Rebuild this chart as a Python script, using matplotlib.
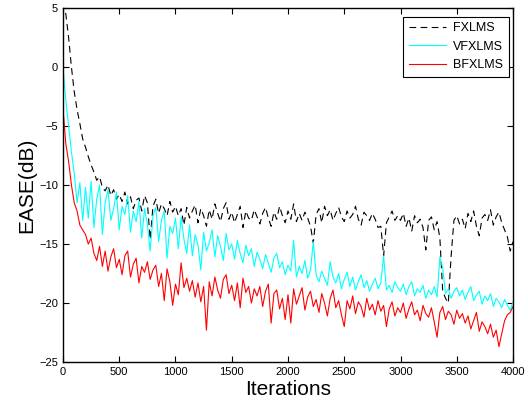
import numpy as np
import matplotlib.pyplot as plt

plt.rcParams['font.family'] = ['Liberation Sans', 'DejaVu Sans']

iters = np.arange(0, 4001, 25)

fxlms = [
    5.5, 4.5, 2.5, 0.0, -2.1, -3.6, -4.8, -6.1, -6.8, -7.6,
    -8.3, -8.9, -9.6, -9.3, -10.2, -10.5, -10.0, -10.9, -10.4, -11.2,
    -10.8, -11.4, -10.6, -11.6, -11.0, -12.0, -11.3, -11.1, -12.2, -10.9,
    -11.5, -14.6, -11.8, -11.2, -12.4, -11.6, -12.0, -12.6, -11.4, -12.3,
    -11.8, -12.6, -12.0, -13.4, -11.9, -12.8, -12.2, -11.7, -13.2, -12.0,
    -12.6, -13.5, -12.1, -12.9, -11.6, -12.4, -13.1, -12.0, -11.5, -12.9,
    -12.3, -13.2, -12.5, -11.8, -13.6, -12.2, -12.8, -13.0, -12.1, -12.7,
    -13.3, -12.4, -11.9, -12.8, -13.5, -12.3, -12.9, -11.8, -12.6, -13.2,
    -12.2, -12.9, -11.6, -13.1, -12.4, -13.0, -12.3, -12.8, -13.5, -14.9,
    -12.5, -12.0, -13.2, -11.8, -12.6, -12.1, -13.0, -12.4, -11.9, -12.7,
    -13.1, -12.2, -12.8, -12.5, -11.8, -12.9, -13.4, -12.3, -12.6, -13.0,
    -12.4, -12.9, -13.6, -13.5, -16.0, -13.2, -12.7, -12.2, -13.0, -12.6,
    -13.0, -12.4, -13.5, -12.8, -13.9, -12.6, -13.2, -12.9, -13.6, -15.5,
    -13.0, -12.7, -13.8, -13.1, -14.5, -19.0, -19.6, -20.0, -16.0, -13.0,
    -12.6, -13.3, -12.9, -13.7, -12.4, -13.1, -12.2, -13.5, -14.3, -12.8,
    -12.5, -13.0, -12.1, -13.4, -12.7, -12.3, -13.2, -13.8, -14.4, -15.6,
    -14.8,
]

vfxlms = [
    0.0, -2.8, -5.0, -7.2, -9.0, -11.5, -9.8, -13.0, -10.2, -12.8,
    -9.7, -13.6, -11.2, -10.0, -14.2, -11.5, -10.4, -13.0, -12.0, -10.6,
    -13.8, -11.8, -12.5, -10.9, -14.0, -12.2, -13.1, -11.4, -14.5, -12.0,
    -13.3, -15.6, -12.6, -11.9, -14.8, -13.0, -12.2, -16.2, -13.5, -14.1,
    -12.8, -15.4, -12.7, -14.6, -15.8, -13.4, -16.0, -14.2, -15.1, -17.2,
    -14.0, -15.6, -14.9, -13.8, -16.1, -14.3, -15.2, -16.4, -14.1, -15.5,
    -15.0, -16.3, -14.7, -15.8, -16.6, -15.1, -16.0, -15.4, -16.9, -15.7,
    -16.3, -17.1, -15.9, -16.6, -17.4, -16.2, -15.8, -17.0, -16.5, -17.6,
    -16.8, -17.3, -14.7, -17.8, -16.9, -17.5, -16.4, -17.9, -17.2, -14.8,
    -17.6, -18.2, -17.3, -17.9, -18.5, -16.5, -17.8, -18.3, -17.5, -18.8,
    -18.0, -17.4, -18.6, -17.8, -18.9, -18.2, -17.6, -18.7, -18.1, -19.0,
    -18.4, -17.9, -18.8, -18.3, -16.0, -18.9, -18.5, -19.1, -18.2, -18.7,
    -19.0, -18.4, -19.3, -18.6, -18.2, -19.4, -18.8, -19.1, -18.5, -19.6,
    -18.9, -19.3, -18.6, -19.5, -16.1, -17.0, -19.2, -18.8, -19.6, -19.0,
    -18.7, -19.4, -18.9, -19.7, -19.1, -18.6, -19.8, -19.3, -19.0, -20.1,
    -19.4, -19.8, -19.2, -20.3, -19.6, -19.9, -20.4, -19.7, -20.2, -20.6,
    -19.9,
]

bfxlms = [
    -3.5, -6.5, -8.0, -10.0, -11.5, -12.2, -13.4, -13.8, -14.2, -15.0,
    -14.5, -15.8, -16.4, -15.2, -16.9, -15.6, -17.3, -16.1, -15.4, -17.0,
    -16.3, -17.6, -16.0, -15.6, -17.8, -16.7, -16.2, -18.3, -16.9, -17.4,
    -16.5, -18.0, -17.2, -16.8, -18.6, -17.5, -19.8, -17.1, -18.2, -20.2,
    -18.4, -19.3, -16.6, -18.7, -17.9, -19.0, -18.1, -19.5, -18.3, -19.9,
    -18.6, -22.3, -18.2, -19.4, -17.8, -18.9, -19.6, -18.0, -17.6, -19.2,
    -18.5, -19.8, -18.3, -20.4, -17.9, -19.1, -18.6, -20.0, -18.8, -19.4,
    -18.6, -20.3, -19.0, -18.4, -21.7, -19.2, -18.9, -20.5, -19.6, -21.4,
    -19.3, -21.7, -18.8, -20.1, -19.4, -18.7, -20.6, -19.5, -19.0, -20.3,
    -19.7, -20.8, -19.2, -20.0, -21.1, -19.6, -18.9, -20.4, -19.8, -21.0,
    -22.0, -19.8, -20.5, -19.4, -20.9, -19.9, -20.3, -21.2, -19.6, -20.6,
    -20.1, -21.0, -19.8, -20.7, -20.2, -22.0, -20.5, -19.9, -21.1, -20.4,
    -20.8, -20.0, -21.3, -20.5, -19.9, -21.0, -20.6, -21.5, -20.2, -20.9,
    -21.2, -20.4, -21.6, -22.9, -20.8, -20.3, -21.4, -20.7, -21.0, -21.8,
    -20.6, -21.3, -20.9, -21.7, -21.1, -22.2, -21.5, -20.8, -22.4, -21.6,
    -22.0, -22.6, -21.8, -22.9, -22.3, -23.7, -22.6, -21.5, -21.0, -20.8,
    -20.3,
]

fig = plt.figure(figsize=(5.28, 4.15), dpi=100)
ax = fig.add_axes([0.1193, 0.1277, 0.8523, 0.853])

ax.plot(iters, fxlms, color='black', linestyle=(0, (6, 4)), linewidth=0.8, label='FXLMS')
ax.plot(iters, vfxlms, color='cyan', linewidth=0.8, label='VFXLMS')
ax.plot(iters, bfxlms, color='red', linewidth=0.8, label='BFXLMS')

ax.set_xlim(0, 4000)
ax.set_ylim(-25, 5)
ax.set_xticks(np.arange(0, 4001, 500))
ax.set_yticks(np.arange(-25, 6, 5))
ax.tick_params(direction='in', top=True, right=True, length=4, labelsize=8, width=0.8)
for s in ax.spines.values():
    s.set_linewidth(1.0)

ax.set_xlabel('Iterations', fontsize=15, labelpad=2)
ax.set_ylabel('EASE(dB)', fontsize=15, labelpad=2)

leg = ax.legend(loc='upper right', bbox_to_anchor=(0.991, 0.975), borderaxespad=0,
                fontsize=9, handlelength=3.0, handletextpad=0.55, fancybox=False,
                framealpha=1, edgecolor='black', borderpad=0.45, labelspacing=0.5)
leg.get_frame().set_linewidth(0.8)

fig.savefig('out.png', dpi=100)
